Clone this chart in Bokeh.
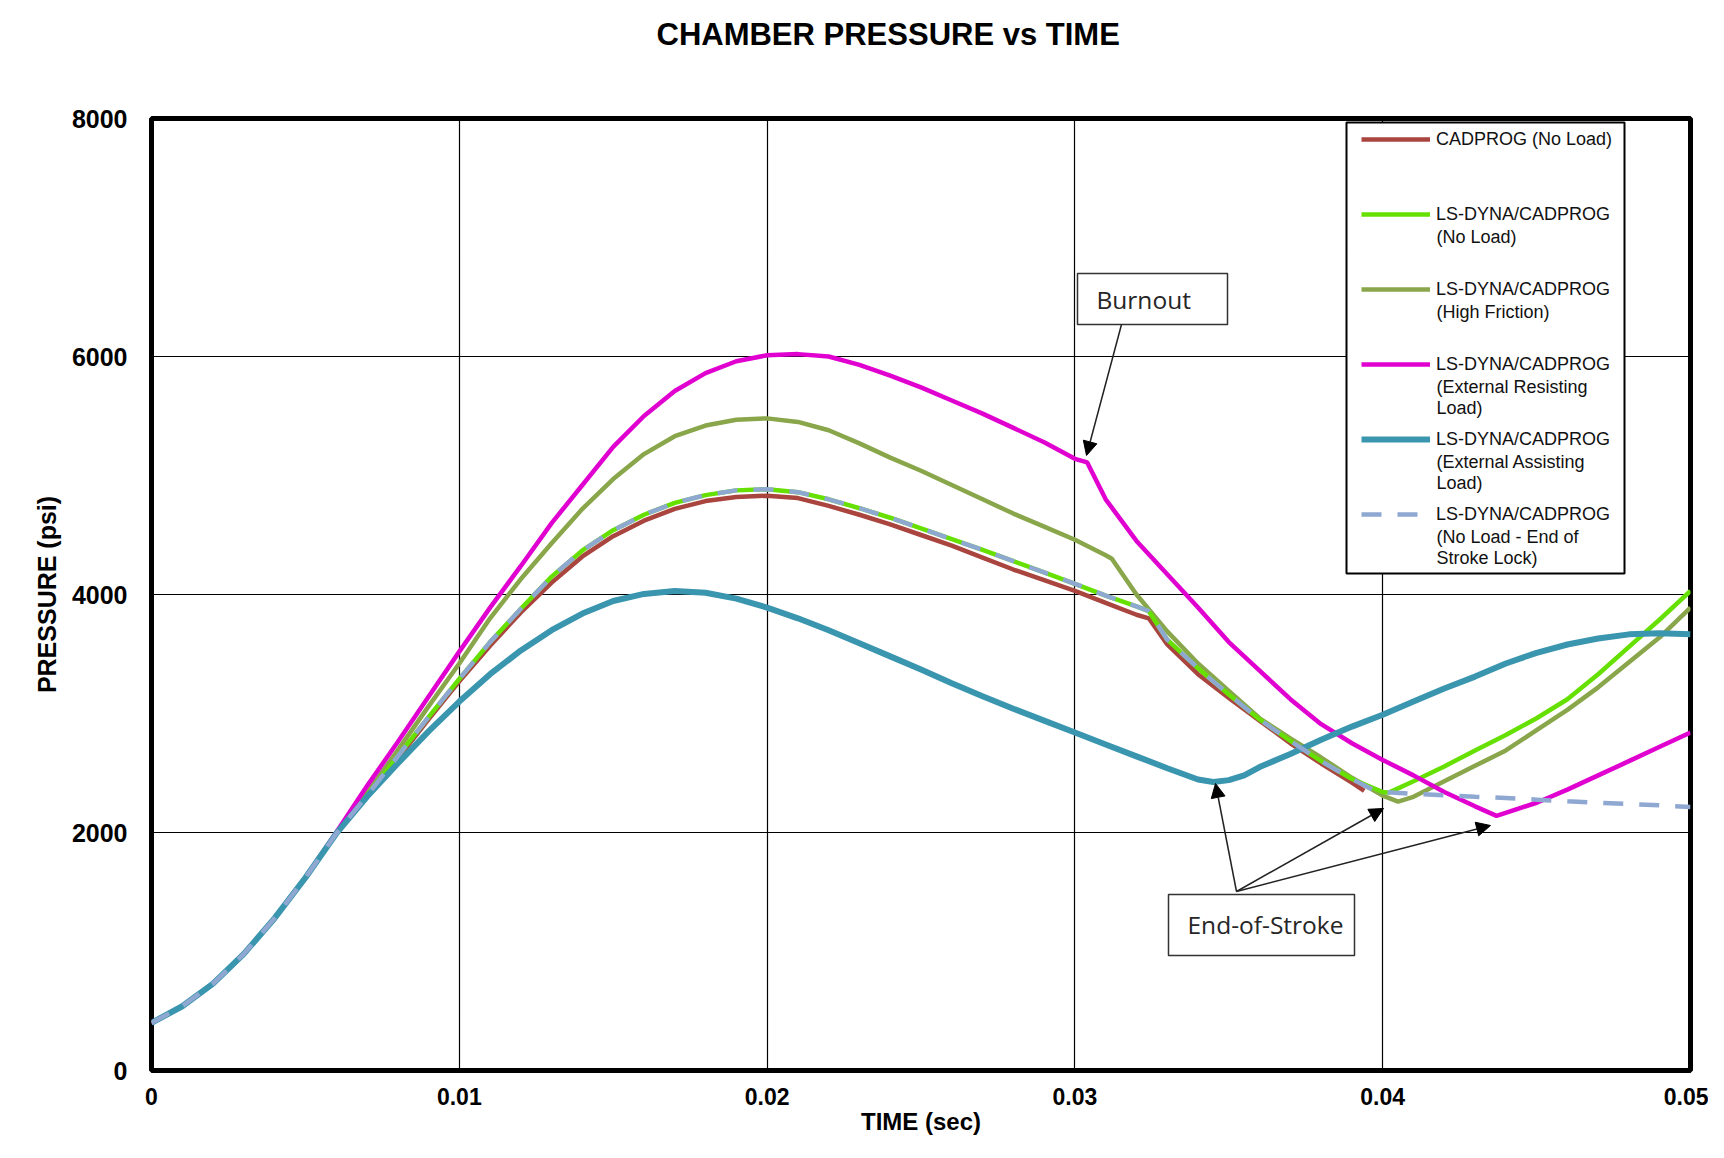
from bokeh.plotting import figure
from bokeh.models import (Range1d, FixedTicker, Legend, LegendItem, Arrow, NormalHead,
                          Label, BoxAnnotation, Title)
from bokeh.embed import file_html
from bokeh.resources import INLINE

# ---------------- data ----------------
x_ticks = [0, 0.01, 0.02, 0.03, 0.04, 0.05]
x_tick_labels = ["0", "0.01", "0.02", "0.03", "0.04", "0.05"]
y_ticks = [0, 2000, 4000, 6000, 8000]

cad_t = [0.000, 0.001, 0.002, 0.003, 0.004, 0.005, 0.006, 0.007, 0.008, 0.009,
         0.010, 0.011, 0.012, 0.013, 0.014, 0.015, 0.016, 0.017, 0.018, 0.019,
         0.020, 0.021, 0.022, 0.023, 0.024, 0.025, 0.026, 0.027, 0.028, 0.029,
         0.030, 0.031, 0.032, 0.0324, 0.033, 0.034, 0.035, 0.036, 0.037, 0.038,
         0.039, 0.0394]
cad_p = [400, 540, 730, 980, 1280, 1620, 1990, 2310, 2620, 2950,
         3270, 3570, 3850, 4100, 4320, 4490, 4620, 4720, 4785, 4820,
         4830, 4810, 4745, 4670, 4590, 4500, 4410, 4310, 4210, 4120,
         4030, 3930, 3830, 3800, 3580, 3330, 3130, 2940, 2750, 2580,
         2420, 2350]

nl_t = [0.000, 0.001, 0.002, 0.003, 0.004, 0.005, 0.006, 0.007, 0.008, 0.009,
        0.010, 0.011, 0.012, 0.013, 0.014, 0.015, 0.016, 0.017, 0.018, 0.019,
        0.020, 0.021, 0.022, 0.023, 0.024, 0.025, 0.026, 0.027, 0.028, 0.029,
        0.030, 0.031, 0.032, 0.0324, 0.033, 0.034, 0.035, 0.036, 0.037, 0.038,
        0.039, 0.040, 0.0402, 0.041, 0.042, 0.043, 0.044, 0.045, 0.046, 0.047,
        0.048, 0.049, 0.050]
nl_p = [400, 540, 730, 980, 1280, 1620, 1990, 2310, 2640, 2970,
        3290, 3600, 3880, 4150, 4370, 4540, 4670, 4770, 4835, 4875,
        4885, 4860, 4800, 4725, 4645, 4555, 4465, 4375, 4280, 4185,
        4090, 3990, 3900, 3860, 3620, 3380, 3160, 2950, 2770, 2600,
        2450, 2340, 2335, 2430, 2555, 2690, 2820, 2960, 3120, 3330,
        3560, 3790, 4030]

hf_t = [0.000, 0.001, 0.002, 0.003, 0.004, 0.005, 0.006, 0.007, 0.008, 0.009,
        0.010, 0.011, 0.012, 0.013, 0.014, 0.015, 0.016, 0.017, 0.018, 0.019,
        0.020, 0.021, 0.022, 0.023, 0.024, 0.025, 0.026, 0.027, 0.028, 0.029,
        0.030, 0.031, 0.0312, 0.032, 0.033, 0.034, 0.035, 0.036, 0.037, 0.038,
        0.039, 0.040, 0.0405, 0.041, 0.042, 0.043, 0.044, 0.045, 0.046, 0.047,
        0.048, 0.049, 0.050]
hf_p = [400, 540, 730, 980, 1280, 1620, 1990, 2330, 2690, 3060,
        3420, 3800, 4130, 4430, 4720, 4970, 5180, 5330, 5420, 5468,
        5480, 5450, 5380, 5270, 5150, 5040, 4920, 4800, 4680, 4570,
        4460, 4330, 4300, 4000, 3690, 3420, 3190, 2960, 2790, 2630,
        2460, 2310, 2260, 2300, 2430, 2560, 2690, 2860, 3030, 3220,
        3430, 3640, 3890]

er_t = [0.000, 0.001, 0.002, 0.003, 0.004, 0.005, 0.006, 0.007, 0.008, 0.009,
        0.010, 0.011, 0.012, 0.013, 0.014, 0.015, 0.016, 0.017, 0.018, 0.019,
        0.020, 0.021, 0.022, 0.023, 0.024, 0.025, 0.026, 0.027, 0.028, 0.029,
        0.030, 0.0304, 0.031, 0.032, 0.033, 0.034, 0.035, 0.036, 0.037, 0.038,
        0.039, 0.040, 0.041, 0.042, 0.043, 0.0437, 0.045, 0.046, 0.047, 0.048,
        0.049, 0.050]
er_p = [400, 540, 730, 980, 1280, 1620, 2000, 2390, 2760, 3140,
        3520, 3890, 4240, 4600, 4920, 5240, 5500, 5710, 5860, 5960,
        6010, 6020, 6000, 5930, 5840, 5740, 5630, 5520, 5400, 5280,
        5140, 5110, 4800, 4450, 4170, 3890, 3600, 3360, 3120, 2910,
        2750, 2610, 2480, 2340, 2220, 2140, 2250, 2360, 2480, 2600,
        2720, 2840]

ea_t = [0.000, 0.001, 0.002, 0.003, 0.004, 0.005, 0.006, 0.007, 0.008, 0.009,
        0.010, 0.011, 0.012, 0.013, 0.014, 0.015, 0.016, 0.017, 0.018, 0.019,
        0.020, 0.021, 0.022, 0.023, 0.024, 0.025, 0.026, 0.027, 0.028, 0.029,
        0.030, 0.031, 0.032, 0.033, 0.034, 0.0345, 0.035, 0.0355, 0.036, 0.037,
        0.038, 0.039, 0.040, 0.041, 0.042, 0.043, 0.044, 0.045, 0.046, 0.047,
        0.048, 0.049, 0.050]
ea_p = [400, 540, 730, 980, 1280, 1620, 1990, 2300, 2580, 2850,
        3100, 3330, 3530, 3700, 3840, 3945, 4005, 4030, 4015, 3965,
        3890, 3800, 3700, 3590, 3480, 3370, 3255, 3145, 3040, 2940,
        2840, 2740, 2640, 2540, 2445, 2425, 2440, 2480, 2550, 2660,
        2780, 2890, 2990, 3100, 3210, 3310, 3420, 3510, 3580, 3630,
        3665, 3675, 3665]

lk_t = [0.000, 0.001, 0.002, 0.003, 0.004, 0.005, 0.006, 0.007, 0.008, 0.009,
        0.010, 0.011, 0.012, 0.013, 0.014, 0.015, 0.016, 0.017, 0.018, 0.019,
        0.020, 0.021, 0.022, 0.023, 0.024, 0.025, 0.026, 0.027, 0.028, 0.029,
        0.030, 0.031, 0.032, 0.0324, 0.033, 0.034, 0.035, 0.036, 0.037, 0.038,
        0.039, 0.0398, 0.041, 0.042, 0.043, 0.044, 0.045, 0.046, 0.047, 0.048,
        0.049, 0.050]
lk_p = [400, 540, 730, 980, 1280, 1620, 1990, 2310, 2640, 2970,
        3290, 3600, 3880, 4150, 4370, 4540, 4670, 4770, 4835, 4875,
        4885, 4860, 4800, 4725, 4645, 4555, 4465, 4375, 4280, 4185,
        4090, 3990, 3900, 3860, 3620, 3380, 3160, 2950, 2770, 2600,
        2450, 2345, 2325, 2312, 2300, 2290, 2276, 2262, 2250, 2240,
        2228, 2215]

legend_first = ["CADPROG (No Load)", "LS-DYNA/CADPROG", "LS-DYNA/CADPROG",
                "LS-DYNA/CADPROG", "LS-DYNA/CADPROG", "LS-DYNA/CADPROG"]
legend_more = [[], ["(No Load)"], ["(High Friction)"],
               ["(External Resisting", "Load)"],
               ["(External Assisting", "Load)"],
               ["(No Load - End of", "Stroke Lock)"]]

colors = ["#A9443F", "#66E000", "#89A64B", "#E000D0", "#3A95AF", "#8EA8D2"]

# ---------------- layout (pixels on the canvas) ----------------
W, H = 1708, 1142
FL, FR, FT, FB = 151, 1690, 118, 1070
X0, X1, Y0, Y1 = 0.0, 0.05, 0.0, 8000.0


def dx(px):
    return X0 + (px - FL) / (FR - FL) * (X1 - X0)


def dy(py):
    return Y0 + (FB - py) / (FB - FT) * (Y1 - Y0)


p = figure(width=W, height=H, output_backend="svg", toolbar_location=None,
           x_range=Range1d(X0, X1), y_range=Range1d(Y0, Y1),
           min_border_left=FL, min_border_right=W - FR, min_border_top=FT,
           min_border_bottom=H - FB, title=None)

# spacer + real title (stacked outward from the frame)
p.add_layout(Title(text=" ", text_font_size="1px", standoff=64), "above")
p.add_layout(Title(text="CHAMBER PRESSURE vs TIME", text_font="Liberation Sans",
                   text_font_size="31px", text_font_style="bold", text_color="black",
                   align="left", offset=505, standoff=0), "above")

p.background_fill_color = "white"
p.border_fill_color = "white"
p.outline_line_color = "black"
p.outline_line_width = 5

p.xaxis.ticker = FixedTicker(ticks=x_ticks)
p.xaxis.major_label_overrides = dict(zip(x_ticks, x_tick_labels))
p.yaxis.ticker = FixedTicker(ticks=y_ticks)
p.axis.axis_line_color = None
p.axis.major_tick_line_color = None
p.axis.minor_tick_line_color = None
p.axis.major_tick_out = 0
p.axis.major_tick_in = 0
p.axis.major_label_text_font = "Liberation Sans"
p.axis.major_label_text_font_style = "bold"
p.axis.major_label_text_color = "black"
p.xaxis.major_label_text_font_size = "23px"
p.yaxis.major_label_text_font_size = "25px"
p.xaxis.major_label_standoff = 17
p.yaxis.major_label_standoff = 24
p.axis.axis_label_text_font = "Liberation Sans"
p.axis.axis_label_text_font_style = "bold"
p.axis.axis_label_text_color = "black"
p.xaxis.axis_label_text_font_size = "24px"
p.yaxis.axis_label_text_font_size = "25px"
p.xaxis.axis_label = "TIME (sec)"
p.yaxis.axis_label = "PRESSURE (psi)"
p.xaxis.axis_label_standoff = 0
p.yaxis.axis_label_standoff = 8

p.grid.grid_line_color = "black"
p.grid.grid_line_width = 1.2
p.grid.grid_line_alpha = 1.0

r_cad = p.line(cad_t, cad_p, line_color=colors[0], line_width=4.5)
r_hf = p.line(hf_t, hf_p, line_color=colors[2], line_width=4.5)
r_nl = p.line(nl_t, nl_p, line_color=colors[1], line_width=4.5)
r_er = p.line(er_t, er_p, line_color=colors[3], line_width=4.5)
r_ea = p.line(ea_t, ea_p, line_color=colors[4], line_width=6)
r_lk = p.line(lk_t, lk_p, line_color=colors[5], line_width=4.5, line_dash="20 16")
renderers = [r_cad, r_nl, r_hf, r_er, r_ea, r_lk]

# ---------------- legend ----------------
LEG_L, LEG_R, LEG_T, LEG_B = 1346, 1624, 122, 573
ITEM0, STEP, LINE = 139.3, 75, 21.7
GLYPH_X = 1361
p.add_layout(BoxAnnotation(left=dx(LEG_L), right=dx(LEG_R), top=dy(LEG_T), bottom=dy(LEG_B),
                           fill_color="white", fill_alpha=1.0, line_color="black",
                           line_width=2, line_alpha=1.0))
item_h = 24
leg_height = 6 * item_h + 5 * (STEP - item_h)
legend = Legend(items=[LegendItem(label=l, renderers=[r]) for l, r in zip(legend_first, renderers)],
                location=(GLYPH_X - FL, FB - (ITEM0 - item_h / 2 + leg_height)))
legend.label_text_font = "Liberation Sans"
legend.label_text_font_size = "18px"
legend.label_text_color = "#111111"
legend.glyph_width = 69
legend.glyph_height = item_h
legend.label_height = item_h
legend.label_standoff = 6
legend.spacing = STEP - item_h
legend.padding = 0
legend.margin = 0
legend.border_line_color = None
legend.background_fill_alpha = 0.0
p.add_layout(legend)

TEXT_X = GLYPH_X + 69 + 6
for k, more in enumerate(legend_more):
    for j, line in enumerate(more):
        p.add_layout(Label(x=dx(TEXT_X), y=dy(ITEM0 + STEP * k + LINE * (j + 1)), text=line,
                           text_font="Liberation Sans", text_font_size="18px",
                           text_color="#111111", text_baseline="middle", text_align="left"))

# ---------------- annotations ----------------
box_font = "Open Sans"
head = dict(size=14, fill_color="black", line_color="black")
p.add_layout(BoxAnnotation(left=dx(1077), right=dx(1227), top=dy(273), bottom=dy(324),
                           fill_color="white", fill_alpha=1.0,
                           line_color="#333333", line_width=1.5, line_alpha=1.0))
p.add_layout(Label(x=dx(1096), y=dy(299), text="Burnout", text_font=box_font,
                   text_font_size="24.5px", text_color="#262626",
                   text_baseline="middle", text_align="left"))
p.add_layout(Arrow(x_start=dx(1121), y_start=dy(324), x_end=dx(1086), y_end=dy(455),
                   line_color="#222222", line_width=1.5, end=NormalHead(**head)))

p.add_layout(BoxAnnotation(left=dx(1168), right=dx(1354), top=dy(894), bottom=dy(955),
                           fill_color="white", fill_alpha=1.0,
                           line_color="#333333", line_width=1.5, line_alpha=1.0))
p.add_layout(Label(x=dx(1187), y=dy(924), text="End-of-Stroke", text_font=box_font,
                   text_font_size="24.5px", text_color="#262626",
                   text_baseline="middle", text_align="left"))
for ex, ey in [(1215, 783), (1383, 808), (1490, 825)]:
    p.add_layout(Arrow(x_start=dx(1236), y_start=dy(891), x_end=dx(ex), y_end=dy(ey),
                       line_color="#222222", line_width=1.5, end=NormalHead(**head)))

open("out.html", "w").write(file_html(p, INLINE))
